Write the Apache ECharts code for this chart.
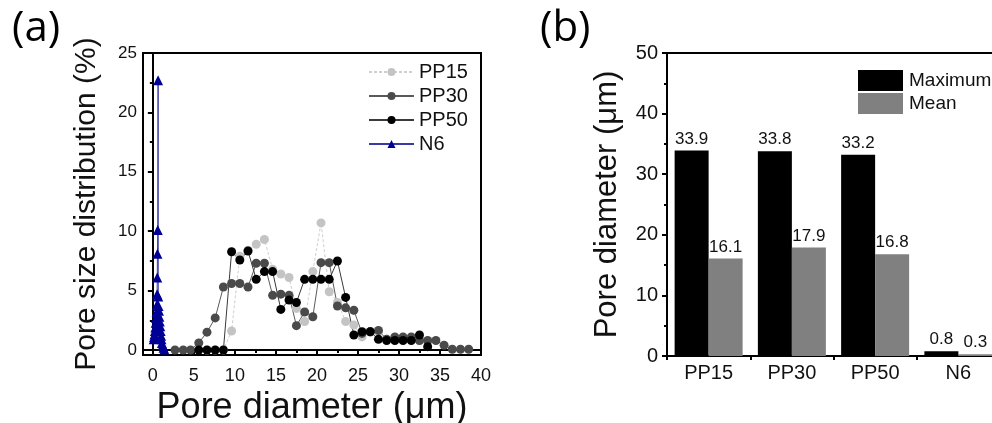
<!DOCTYPE html>
<html>
<head>
<meta charset="utf-8">
<script src="https://cdn.jsdelivr.net/npm/echarts@6/dist/echarts.min.js"></script>
<style>
  html, body { margin: 0; padding: 0; background: #fff; }
  #container { width: 992px; height: 423px; }
</style>
</head>
<body>
<div id="container"></div>
<script>
// (a) pore size distribution, x in um
var poreX = [2.7, 3.7, 4.6, 5.6, 6.6, 7.6, 8.6, 9.6, 10.6, 11.6, 12.6, 13.6, 14.6, 15.6, 16.6, 17.5, 18.5, 19.5,
  20.5, 21.5, 22.5, 23.5, 24.5, 25.5, 26.5, 27.5, 28.5, 29.5, 30.5, 31.5, 32.5, 33.5, 34.5, 35.5, 36.5, 37.5, 38.5];
var pp15 = [null, null, null, null, 0, 0, 0, 1.6, 7.9, 8.4, 8.9, 9.3, 6.8, 6.4, 6.1, 3.5, 2.4, 6.6,
  10.7, 4.9, 4.0, 2.4, 2.1, 1.1, 1.5, 1.5, 0.9, 0.9, 1.0, 1.0, 0.8, 0.7, null, null, null, null, null];
var pp30 = [0, 0, 0, 0.6, 1.5, 2.7, 5.3, 5.6, 5.6, 5.3, 7.3, 7.3, 4.6, 4.7, 4.6, 2.05, 3.2, 2.8,
  7.35, 7.35, 3.7, 3.55, 3.35, 1.4, 1.55, 1.65, 0.9, 1.1, 1.1, 1.1, 0.8, 0.8, 0.8, 0.4, 0.06, 0.06, 0.06];
var pp50 = [null, null, null, 0, 0, 0, 0, 8.27, 7.58, 8.33, 5.95, 6.6, 6.6, 3.42, 4.2, 4.0, 5.95, 5.95,
  5.95, 5.95, 7.49, 4.43, 1.26, 1.54, 1.54, 0.9, 0.8, 0.8, 0.8, 0.8, 1.26, 0.28, null, null, null, null, null];
var n6X = [0.1, 0.15, 0.2, 0.25, 0.3, 0.35, 0.4, 0.45, 0.5, 0.52, 0.54, 0.56, 0.6, 0.64, 0.66, 0.7, 0.75,
  0.8, 0.85, 0.9, 0.95, 1.0, 1.05, 1.1, 1.2, 1.3, 1.4];
var n6Y = [0.9, 1.1, 1.3, 1.6, 1.9, 2.3, 2.7, 3.2, 3.8, 4.7, 6.1, 8.1, 10.1, 22.7, 4.5, 3.7, 3.3,
  2.8, 2.4, 2.0, 1.6, 1.2, 0.9, 0.6, 0.4, 0.2, 0.05];

// (b) pore diameter bars
var samples = ["PP15", "PP30", "PP50", "N6"];
var maxDiameter = [33.9, 33.8, 33.2, 0.8];
var meanDiameter = [16.1, 17.9, 16.8, 0.3];

var FONT = "'Liberation Sans', Arial, sans-serif";

function pairs(xs, ys) {
  var out = [];
  for (var i = 0; i < xs.length; i++) {
    out.push([xs[i], ys[i]]);
  }
  return out;
}

function lineSeries(name, ys, markerColor, lineColor, dashed) {
  return {
    name: name,
    type: "line",
    xAxisIndex: 0,
    yAxisIndex: 0,
    data: pairs(poreX, ys),
    symbol: "circle",
    symbolSize: 9,
    itemStyle: { color: markerColor },
    lineStyle: { color: lineColor, width: 1, type: dashed ? [3, 2] : "solid" },
    connectNulls: false,
    animation: false,
  };
}

var myChart = echarts.init(document.getElementById("container"));

var option = {
  backgroundColor: "#fff",
  textStyle: { fontFamily: FONT },
  graphic: [
    { type: "text", left: 12, top: 8, style: { text: "(a)", font: "42px 'Open Sans', sans-serif", fill: "#000" } },
    { type: "text", left: 540, top: 8, style: { text: "(b)", font: "42px 'Open Sans', sans-serif", fill: "#000" } },
  ],
  legend: [
    {
      data: ["PP15", "PP30", "PP50", "N6"],
      orient: "vertical",
      left: 363,
      top: 57,
      itemWidth: 45,
      itemHeight: 10,
      itemGap: 4,
      textStyle: { fontFamily: FONT, fontSize: 20, color: "#111", lineHeight: 20 },
    },
    {
      data: ["Maximum", "Mean"],
      orient: "vertical",
      left: 853,
      top: 65,
      icon: "rect",
      itemWidth: 45,
      itemHeight: 21,
      itemGap: 2,
      textStyle: { fontFamily: FONT, fontSize: 19, color: "#111", padding: [0, 0, 0, 1] },
    },
  ],
  grid: [
    { left: 143, top: 53, width: 338, height: 302, outerBoundsMode: "none", containLabel: false,
      show: true, borderColor: "#000", borderWidth: 2 },
    { left: 667, top: 53, width: 333, height: 303, outerBoundsMode: "none", containLabel: false,
      show: true, borderColor: "#000", borderWidth: 2 },
  ],
  xAxis: [
    {
      gridIndex: 0,
      type: "value",
      min: -1.2,
      max: 40,
      splitNumber: 8,
      name: "Pore diameter (μm)",
      nameLocation: "middle",
      nameGap: 30,
      nameTextStyle: { fontFamily: FONT, fontSize: 36, color: "#111" },
      axisLine: { show: true, lineStyle: { color: "#000", width: 2 } },
      axisTick: { show: true, length: 5, lineStyle: { color: "#000", width: 2 } },
      minorTick: { show: true, splitNumber: 2, length: 3, lineStyle: { color: "#000", width: 2 } },
      axisLabel: { fontFamily: FONT, fontSize: 18, color: "#111", margin: 12, showMinLabel: false },
      splitLine: { show: false },
    },
    {
      gridIndex: 1,
      type: "category",
      data: samples,
      axisLine: { show: true, lineStyle: { color: "#000", width: 2 } },
      axisTick: { show: true, length: 4, lineStyle: { color: "#000", width: 2 } },
      axisLabel: { fontFamily: FONT, fontSize: 20, color: "#111", margin: 7 },
    },
  ],
  yAxis: [
    {
      gridIndex: 0,
      type: "value",
      min: -0.42,
      max: 25,
      splitNumber: 5,
      name: "Pore size distribution (%)",
      nameLocation: "middle",
      nameGap: 41,
      nameTextStyle: { fontFamily: FONT, fontSize: 30, color: "#111" },
      axisLine: { show: true, lineStyle: { color: "#000", width: 2 } },
      axisTick: { show: true, length: 5, lineStyle: { color: "#000", width: 2 } },
      minorTick: { show: true, splitNumber: 2, length: 3, lineStyle: { color: "#000", width: 2 } },
      axisLabel: { fontFamily: FONT, fontSize: 17, color: "#111", margin: 6, showMinLabel: false },
      splitLine: { show: false },
    },
    {
      gridIndex: 1,
      type: "value",
      min: 0,
      max: 50,
      interval: 10,
      name: "Pore diameter (μm)",
      nameLocation: "middle",
      nameGap: 44,
      nameTextStyle: { fontFamily: FONT, fontSize: 31, color: "#111" },
      axisLine: { show: true, lineStyle: { color: "#000", width: 2 } },
      axisTick: { show: true, length: 5, lineStyle: { color: "#000", width: 2 } },
      minorTick: { show: true, splitNumber: 2, length: 3, lineStyle: { color: "#000", width: 2 } },
      axisLabel: { fontFamily: FONT, fontSize: 20, color: "#111", margin: 9 },
      splitLine: { show: false },
    },
  ],
  series: [
    lineSeries("PP15", pp15, "#c4c4c4", "#cfcfcf", true),
    lineSeries("PP30", pp30, "#4a4a4a", "#5a5a5a", false),
    lineSeries("PP50", pp50, "#000000", "#3a3a3a", false),
    {
      name: "N6",
      type: "line",
      xAxisIndex: 0,
      yAxisIndex: 0,
      data: pairs(n6X, n6Y),
      symbol: "triangle",
      symbolSize: 10,
      itemStyle: { color: "#000096" },
      lineStyle: { color: "#3a3aa6", width: 1 },
      animation: false,
    },
    {
      name: "Maximum",
      type: "bar",
      xAxisIndex: 1,
      yAxisIndex: 1,
      data: maxDiameter,
      barWidth: 34,
      barGap: "0%",
      itemStyle: { color: "#000000" },
      label: { show: true, position: "top", distance: 3, fontFamily: FONT, fontSize: 17, color: "#111" },
      animation: false,
    },
    {
      name: "Mean",
      type: "bar",
      xAxisIndex: 1,
      yAxisIndex: 1,
      data: meanDiameter,
      barWidth: 34,
      barGap: "0%",
      itemStyle: { color: "#808080" },
      label: { show: true, position: "top", distance: 3, fontFamily: FONT, fontSize: 17, color: "#111" },
      animation: false,
    },
  ],
};

myChart.setOption(option);
</script>
</body>
</html>
